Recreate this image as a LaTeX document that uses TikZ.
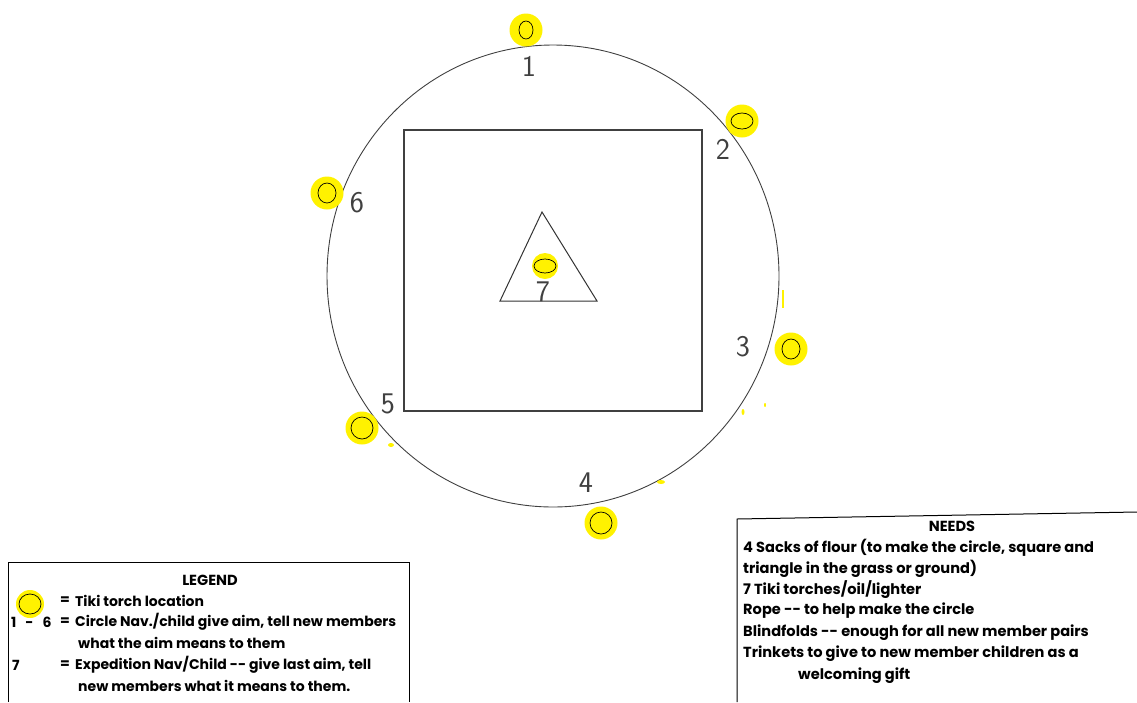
\documentclass[tikz,border=0pt]{standalone}
\usepackage{fontspec}
\setmainfont{Poppins}

\begin{document}
\begin{tikzpicture}[x=1pt, y=-1pt,
    torch/.style={circle, fill=yellow, minimum size=33pt, inner sep=0pt},
    flame/.style={draw=black, line width=0.7pt},
    spot/.style={circle, inner sep=0pt, font=\fontsize{30}{30}\sffamily, text=black!75},
    txt/.style={anchor=west, inner sep=0pt, font=\fontsize{14.6}{14.6}\bfseries},
    legtxt/.style={txt, font=\fontsize{14}{14}\bfseries},
    head/.style={inner sep=0pt, font=\fontsize{14.6}{14.6}\bfseries}]
    \useasboundingbox (0,0) rectangle (1137,702);

    % Kreis, Quadrat, Dreieck
    \draw[line width=0.9pt, black!75] (553,276) ellipse (226pt and 231pt);
    \draw[line width=1.3pt, black!75] (404,130) rectangle (702,411);
    \draw[line width=1pt, black!80] (542,212) -- (500,301) -- (597,301) -- cycle;

    % Fackeln
    \node[torch] (t1) at (526,30) {};
    \node[torch] (t2) at (742,121) {};
    \node[torch] (t3) at (791,349) {};
    \node[torch] (t4) at (601,523) {};
    \node[torch] (t5) at (362,428) {};
    \node[torch] (t6) at (327,193) {};
    \node[torch, minimum size=26pt] (t7) at (545,266) {};
    \draw[flame] (t1) ellipse (7pt and 9pt);
    \draw[flame] (t2) ellipse (11pt and 8pt);
    \draw[flame] (t3) ellipse (9pt and 10pt);
    \draw[flame] (t4) ellipse (11pt and 11pt);
    \draw[flame] (t5) ellipse (11pt and 11pt);
    \draw[flame] (t6) ellipse (9pt and 10pt);
    \draw[flame] (t7) ellipse (11pt and 7pt);

    % Flecken
    \fill[yellow] (782,290) rectangle (784,308);
    \fill[yellow] (391,445) ellipse (3pt and 2pt);
    \fill[yellow] (661,482) ellipse (4pt and 2pt);
    \fill[yellow] (743,412) ellipse (1.5pt and 3pt);
    \fill[yellow] (765,405) ellipse (1pt and 2pt);

    % Nummern
    \node[spot] (n1) at (529,66) {1};
    \node[spot] (n2) at (723,149) {2};
    \node[spot] (n3) at (743,347) {3};
    \node[spot] (n4) at (586,483) {4};
    \node[spot] (n5) at (388,404) {5};
    \node[spot] (n6) at (357,203) {6};
    \node[spot] (n7) at (543,292) {7};

    % Legende
    \draw[line width=1pt] (8,702) -- (8,562) -- (409,562) -- (409,702);
    \node[head] (lhead) at (210,580) {LEGEND};
    \node[torch, minimum size=28pt] (tl) at (30,604) {};
    \draw[flame] (tl) ellipse (11pt and 10pt);
    \node[legtxt] (la) at (60,601) {=};
    \node[legtxt] (la2) at (75,601) {Tiki torch location};
    \node[legtxt] (lb) at (11,622) {1\hspace{9pt}-\hspace{9pt}6};
    \node[legtxt] (lb1) at (60,622) {=};
    \node[legtxt] (lb2) at (75,622) {Circle Nav./child give aim, tell new members};
    \node[legtxt] (lc) at (78,643) {what the aim means to them};
    \node[legtxt] (ld) at (12,665) {7};
    \node[legtxt] (ld1) at (60,665) {=};
    \node[legtxt] (le) at (75,665) {Expedition Nav/Child -{}- give last aim, tell};
    \node[legtxt] (lf) at (78,686) {new members what it means to them.};

    % Bedarf
    \draw[line width=1pt] (737,702) -- (737,519) -- (1137,512);
    \node[head] (nhead) at (952,526) {NEEDS};
    \node[txt] (na) at (743,548) {4 Sacks of flour (to make the circle, square and};
    \node[txt] (nb) at (743,569) {triangle in the grass or ground)};
    \node[txt] (nc) at (743,590) {7 Tiki torches/oil/lighter};
    \node[txt] (nd) at (743,611) {Rope -{}- to help make the circle};
    \node[txt] (ne) at (743,633) {Blindfolds -{}- enough for all new member pairs};
    \node[txt] (nf) at (743,654) {Trinkets to give to new member children as a};
    \node[txt] (ng) at (798,676) {welcoming gift};
\end{tikzpicture}
\end{document}
